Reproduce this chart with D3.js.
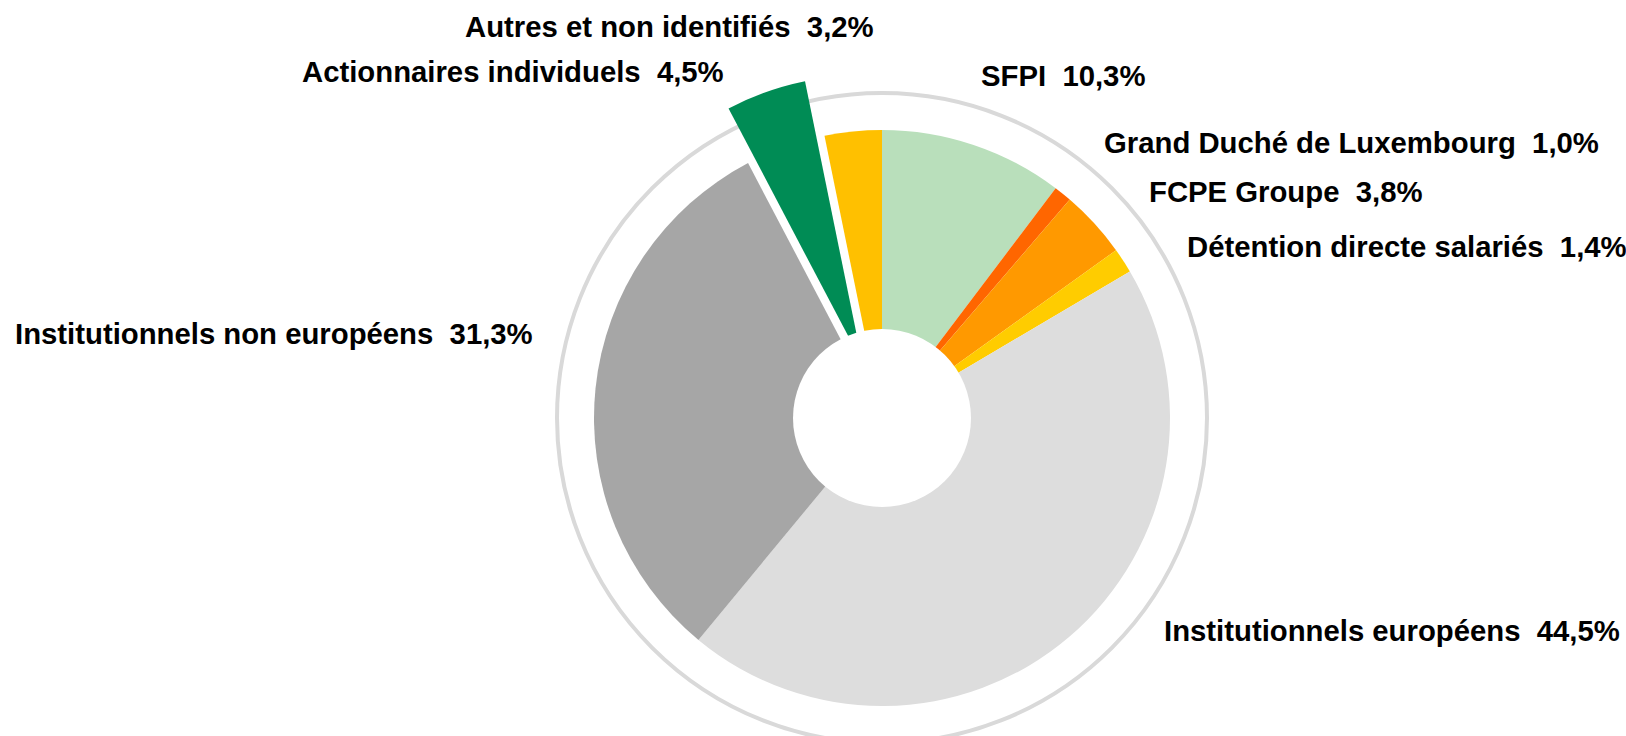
<!DOCTYPE html>
<html>
<head>
<meta charset="utf-8">
<script src="https://cdn.jsdelivr.net/npm/d3@7"></script>
<style>
  body { margin: 0; background: #fff; }
  text { font-family: "Liberation Sans", Arial, sans-serif; font-weight: bold; font-size: 29.3px; fill: #000; }
</style>
</head>
<body>
<div id="wrapper"></div>
<script>
// data, clockwise from 12 o'clock
const categories = ["SFPI", "Grand Duché de Luxembourg", "FCPE Groupe", "Détention directe salariés",
                    "Institutionnels européens", "Institutionnels non européens",
                    "Actionnaires individuels", "Autres et non identifiés"];
const shares = [10.3, 1.0, 3.8, 1.4, 44.5, 31.3, 4.5, 3.2];
const colors = ["#b9dfbb", "#ff6600", "#ff9900", "#ffcc00", "#dddddd", "#a6a6a6", "#008c55", "#ffc000"];
const exploded = ["Actionnaires individuels"];

// where each label sits (left x, baseline y)
const labelPos = [[981, 86], [1104, 153], [1149, 202], [1187, 257],
                  [1164, 641], [15, 344], [302, 82], [465, 37]];

const drawDonut = () => {
    const dimensions = { width: 1626, height: 736, cx: 882, cy: 418,
                         outer: 288, hole: 89, ring: 325, explode: 58 };

    const svg = d3.select("#wrapper").append("svg")
        .attr("width", dimensions.width)
        .attr("height", dimensions.height);

    const dataset = categories.map((c, i) => ({ name: c, value: shares[i], color: colors[i] }));

    const pie = d3.pie().value(d => d.value).sort(null);
    const arc = d3.arc().innerRadius(0).outerRadius(dimensions.outer);
    const arcs = pie(dataset);

    const g = svg.append("g")
        .attr("transform", `translate(${dimensions.cx},${dimensions.cy})`);

    // outer grey ring
    g.append("circle")
        .attr("r", dimensions.ring)
        .attr("fill", "none")
        .attr("stroke", "#d9d9d9")
        .attr("stroke-width", 4);

    g.selectAll("path")
        .data(arcs)
        .enter()
        .append("path")
        .attr("d", arc)
        .attr("fill", d => d.data.color)
        .attr("transform", d => {
            if (!exploded.includes(d.data.name)) return null;
            const a = (d.startAngle + d.endAngle) / 2;
            return `translate(${Math.sin(a) * dimensions.explode},${-Math.cos(a) * dimensions.explode})`;
        });

    // hole
    g.append("circle")
        .attr("r", dimensions.hole)
        .attr("fill", "#fff");

    const fmt = v => d3.format(".1f")(v).replace(".", ",") + "%";

    svg.append("g")
        .selectAll("text")
        .data(arcs)
        .enter()
        .append("text")
        .attr("x", (d, i) => labelPos[i][0])
        .attr("y", (d, i) => labelPos[i][1])
        .text(d => d.data.name + "\u00a0\u00a0" + fmt(d.data.value));
}

drawDonut()
</script>
</body>
</html>
